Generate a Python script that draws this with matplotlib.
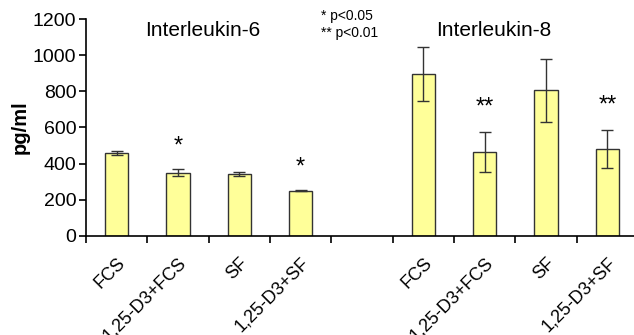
import numpy as np
import matplotlib
matplotlib.use('Agg')
import matplotlib.pyplot as plt

plt.rcParams['font.family'] = ['Liberation Sans', 'DejaVu Sans']

# data
labels = ['FCS', '1,25-D3+FCS', 'SF', '1,25-D3+SF']
il6_means = [460, 350, 343, 251]
il6_errs = [10, 20, 10, 4]
il8_means = [895, 466, 806, 481]
il8_errs = [150, 110, 175, 105]
il6_stars = ['', '*', '', '*']
il8_stars = ['', '**', '', '**']

x6 = np.arange(4)
x8 = np.arange(5, 9)

fig = plt.figure(figsize=(6.34, 3.35), dpi=100)
ax = fig.add_axes([86 / 634, 99 / 335, 552 / 634, 217 / 335])

bar_kw = dict(width=0.38, color='#ffff99', edgecolor='#333333', linewidth=1.0,
              error_kw=dict(ecolor='#333333', elinewidth=1.0, capsize=4, capthick=1.0))
ax.bar(x6, il6_means, yerr=il6_errs, **bar_kw)
ax.bar(x8, il8_means, yerr=il8_errs, **bar_kw)

# significance stars
for xi, m, e, s in zip(x6, il6_means, il6_errs, il6_stars):
    if s:
        ax.text(xi, m + e + 125, s, ha='center', va='center', fontsize=17)
for xi, m, e, s in zip(x8, il8_means, il8_errs, il8_stars):
    if s:
        ax.text(xi, m + e + 135, s, ha='center', va='center', fontsize=17)

ax.text(1.41, 1138, 'Interleukin-6', ha='center', va='center', fontsize=15)
ax.text(6.14, 1138, 'Interleukin-8', ha='center', va='center', fontsize=15)
fig.text(321 / 634, 1 - 16 / 335, '* p<0.05', ha='left', va='center', fontsize=10)
fig.text(321 / 634, 1 - 33 / 335, '** p<0.01', ha='left', va='center', fontsize=10)

ax.set_xlim(-0.5, 8.5)
ax.set_ylim(0, 1200)
ax.set_yticks(range(0, 1201, 200))
ax.tick_params(axis='y', labelsize=14, length=5, width=1.2, direction='out', pad=2)

# category labels at bar centres, ticks between slots
ax.set_xticks(np.concatenate([x6, x8]))
ax.set_xticklabels(labels + labels, rotation=45, ha='right', rotation_mode='anchor',
                   fontsize=13)
ax.tick_params(axis='x', which='major', length=0, pad=13)
ax.set_xticks(np.arange(-0.5, 9, 1), minor=True)
ax.tick_params(axis='x', which='minor', length=5, width=1.2, direction='out')

ax.spines['top'].set_visible(False)
ax.spines['right'].set_visible(False)
ax.spines['left'].set_linewidth(1.2)
ax.spines['bottom'].set_linewidth(1.2)

ax.set_ylabel('pg/ml', fontsize=14.5, fontweight='bold', labelpad=2)

fig.savefig('out.png', dpi=100)
